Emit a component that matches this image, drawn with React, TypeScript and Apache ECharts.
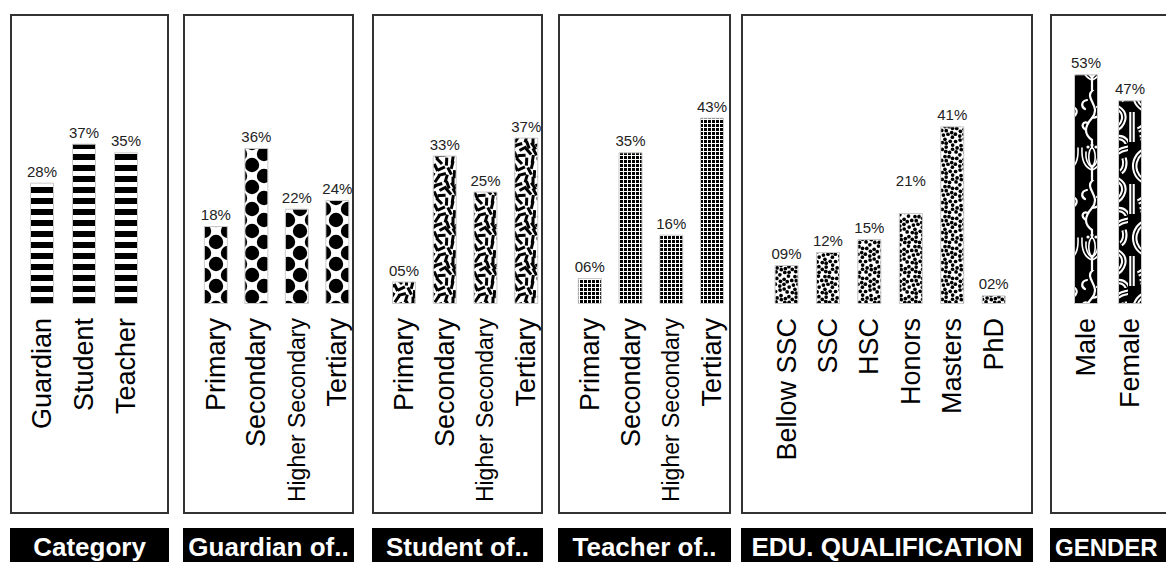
import React, { useEffect, useRef } from 'react';
import * as echarts from 'echarts';

// ---- values (percent) ----
const categoryLabels = ['Guardian', 'Student', 'Teacher'];
const categoryValues = [28, 37, 35];

const guardianLabels = ['Primary', 'Secondary', 'Higher Secondary', 'Tertiary'];
const guardianValues = [18, 36, 22, 24];

const studentLabels = ['Primary', 'Secondary', 'Higher Secondary', 'Tertiary'];
const studentValues = [5, 33, 25, 37];

const teacherLabels = ['Primary', 'Secondary', 'Higher Secondary', 'Tertiary'];
const teacherValues = [6, 35, 16, 43];

const qualificationLabels = ['Bellow SSC', 'SSC', 'HSC', 'Honors', 'Masters', 'PhD'];
const qualificationValues = [9, 12, 15, 21, 41, 2];

const genderLabels = ['Male', 'Female'];
const genderValues = [53, 47];

const panelTitles = ['Category', 'Guardian of..', 'Student of..', 'Teacher of..', 'EDU. QUALIFICATION', 'GENDER'];

// ---- layout ----
const FONT = '"Liberation Sans", Arial, Helvetica, sans-serif';
const PLOT_TOP = 44;
const PLOT_HEIGHT = 260;
const BOX_TOP = 14;
const BOX_BOTTOM = 514;
const HEADER_TOP = 528;
const BAR_WIDTH = 24;

type Texture = 'stripes' | 'circles' | 'dashes' | 'grid' | 'dots' | 'gender';

interface Panel {
  labels: string[];
  values: number[];
  title: string;
  box: [number, number];
  plotLeft: number;
  plotWidth: number;
  max: number;
  texture: Texture;
  titleAlign?: 'center' | 'left';
  titleSize?: number;
}

const panels: Panel[] = [
  { labels: categoryLabels, values: categoryValues, title: panelTitles[0], box: [10, 169], plotLeft: 21, plotWidth: 126, max: 60, texture: 'stripes' },
  { labels: guardianLabels, values: guardianValues, title: panelTitles[1], box: [183, 354], plotLeft: 195.6, plotWidth: 162, max: 60, texture: 'circles' },
  { labels: studentLabels, values: studentValues, title: panelTitles[2], box: [372, 543], plotLeft: 383.6, plotWidth: 163, max: 57.8, texture: 'dashes' },
  { labels: teacherLabels, values: teacherValues, title: panelTitles[3], box: [558, 731], plotLeft: 569.4, plotWidth: 163, max: 60, texture: 'grid' },
  { labels: qualificationLabels, values: qualificationValues, title: panelTitles[4], box: [741, 1033], plotLeft: 765.8, plotWidth: 248.6, max: 60, texture: 'dots' },
  { labels: genderLabels, values: genderValues, title: panelTitles[5], box: [1050, 1190], plotLeft: 1064, plotWidth: 88, max: 60, texture: 'gender', titleAlign: 'left', titleSize: 24 },
];

// label lifted above its bar: [panel, bar, extra px]
const liftedLabels: Array<[number, number, number]> = [[4, 3, 21]];

// ---- textures ----
function seeded(seed: number) {
  let s = seed >>> 0;
  return () => {
    s = (Math.imul(s, 1664525) + 1013904223) >>> 0;
    return s / 4294967296;
  };
}

interface Tile { url: string; w: number; h: number; }

function makeTile(w: number, h: number, draw: (ctx: CanvasRenderingContext2D) => void): Tile {
  const c = document.createElement('canvas');
  c.width = w;
  c.height = h;
  const ctx = c.getContext('2d')!;
  draw(ctx);
  return { url: c.toDataURL(), w, h };
}

function scatter(size: number, count: number, minDist: number, seed: number) {
  const rnd = seeded(seed);
  const pts: Array<[number, number, number]> = [];
  let tries = 0;
  while (pts.length < count && tries < 8000) {
    tries++;
    const x = rnd() * size;
    const y = rnd() * size;
    const a = rnd() * Math.PI;
    const ok = pts.every(([px, py]) => {
      let dx = Math.abs(px - x);
      let dy = Math.abs(py - y);
      dx = Math.min(dx, size - dx);
      dy = Math.min(dy, size - dy);
      return Math.hypot(dx, dy) >= minDist;
    });
    if (ok) pts.push([x, y, a]);
  }
  return pts;
}

function buildTiles(): Record<string, Tile> {
  const stripes = makeTile(4, 11, (ctx) => {
    ctx.fillStyle = '#fff';
    ctx.fillRect(0, 0, 4, 11);
    ctx.fillStyle = '#000';
    ctx.fillRect(0, 0, 4, 6);
  });

  const circles = makeTile(24, 22, (ctx) => {
    ctx.fillStyle = '#fff';
    ctx.fillRect(0, 0, 24, 22);
    ctx.fillStyle = '#000';
    const r = 7.2;
    const centers = [[12, 11], [0, 0], [24, 0], [0, 22], [24, 22]];
    centers.forEach(([x, y]) => {
      ctx.beginPath();
      ctx.arc(x, y, r, 0, Math.PI * 2);
      ctx.fill();
    });
  });

  const dashes = makeTile(40, 40, (ctx) => {
    ctx.fillStyle = '#fff';
    ctx.fillRect(0, 0, 40, 40);
    ctx.strokeStyle = '#000';
    ctx.lineWidth = 3;
    ctx.lineCap = 'butt';
    const pts = scatter(40, 34, 5.4, 11);
    pts.forEach(([x, y, a]) => {
      const len = 8;
      const dx = Math.cos(a) * len / 2;
      const dy = Math.sin(a) * len / 2;
      for (const ox of [-40, 0, 40]) {
        for (const oy of [-40, 0, 40]) {
          ctx.beginPath();
          ctx.moveTo(x + ox - dx, y + oy - dy);
          ctx.lineTo(x + ox + dx, y + oy + dy);
          ctx.stroke();
        }
      }
    });
  });

  const grid = makeTile(4, 4, (ctx) => {
    ctx.fillStyle = '#000';
    ctx.fillRect(0, 0, 4, 4);
    ctx.fillStyle = '#fff';
    ctx.fillRect(3, 0, 1, 4);
    ctx.fillRect(0, 3, 4, 1);
  });

  const dots = makeTile(30, 30, (ctx) => {
    ctx.fillStyle = '#fff';
    ctx.fillRect(0, 0, 30, 30);
    ctx.fillStyle = '#000';
    const pts = scatter(30, 52, 3.9, 5);
    pts.forEach(([x, y]) => {
      for (const ox of [-30, 0, 30]) {
        for (const oy of [-30, 0, 30]) {
          ctx.beginPath();
          ctx.arc(x + ox, y + oy, 1.85, 0, Math.PI * 2);
          ctx.fill();
        }
      }
    });
  });

  // vine with tulip blossom
  const male = makeTile(24, 90, (ctx) => {
    ctx.fillStyle = '#000';
    ctx.fillRect(0, 0, 24, 90);
    ctx.strokeStyle = '#fff';
    ctx.fillStyle = '#fff';
    ctx.lineWidth = 2.2;
    ctx.lineCap = 'round';
    ctx.beginPath();
    ctx.moveTo(13, 0);
    ctx.bezierCurveTo(3, 8, 22, 16, 12, 28);
    ctx.bezierCurveTo(4, 37, 4, 44, 12, 50);
    ctx.lineTo(12, 90);
    ctx.stroke();
    ctx.beginPath();
    ctx.moveTo(12, 28);
    ctx.bezierCurveTo(22, 27, 23, 19, 17, 17);
    ctx.stroke();
    ctx.beginPath();
    ctx.moveTo(7, 10);
    ctx.bezierCurveTo(1, 11, 1, 17, 5, 19);
    ctx.stroke();
    ctx.beginPath();
    ctx.moveTo(6, 40);
    ctx.bezierCurveTo(0, 36, 3, 31, 8, 33);
    ctx.stroke();
    // blossom
    ctx.fillStyle = '#000';
    ctx.beginPath();
    ctx.ellipse(12, 67, 3.2, 9, 0, 0, Math.PI * 2);
    ctx.fill();
    ctx.lineWidth = 1.6;
    ctx.stroke();
    ctx.beginPath();
    ctx.moveTo(12, 80);
    ctx.quadraticCurveTo(1, 76, 2, 58);
    ctx.moveTo(12, 80);
    ctx.quadraticCurveTo(23, 76, 22, 58);
    ctx.moveTo(12, 78);
    ctx.quadraticCurveTo(5, 72, 6, 62);
    ctx.moveTo(12, 78);
    ctx.quadraticCurveTo(19, 72, 18, 62);
    ctx.stroke();
    ctx.fillStyle = '#fff';
    [[8, 57], [12, 55], [16, 57]].forEach(([x, y]) => {
      ctx.beginPath();
      ctx.arc(x, y, 1.6, 0, Math.PI * 2);
      ctx.fill();
    });
  });

  // double-lined ribbons
  const female = makeTile(24, 72, (ctx) => {
    ctx.fillStyle = '#000';
    ctx.fillRect(0, 0, 24, 72);
    const ribbon = (path: () => void) => {
      ctx.strokeStyle = '#fff';
      ctx.lineWidth = 5.5;
      ctx.beginPath();
      path();
      ctx.stroke();
      ctx.strokeStyle = '#000';
      ctx.lineWidth = 1.4;
      ctx.beginPath();
      path();
      ctx.stroke();
    };
    ribbon(() => {
      ctx.moveTo(26, 4);
      ctx.bezierCurveTo(4, 6, 2, 28, 14, 36);
      ctx.bezierCurveTo(24, 42, 20, 54, 10, 58);
    });
    ribbon(() => {
      ctx.moveTo(4, 40);
      ctx.lineTo(4, 70);
    });
    ribbon(() => {
      ctx.moveTo(12, 66);
      ctx.bezierCurveTo(20, 64, 24, 70, 24, 76);
    });
    ribbon(() => {
      ctx.moveTo(20, 14);
      ctx.bezierCurveTo(22, 20, 20, 26, 17, 28);
    });
  });

  return { stripes, circles, dashes, grid, dots, male, female };
}

function pad(v: number) {
  return (v < 10 ? '0' : '') + v + '%';
}

export default function App() {
  const ref = useRef<HTMLDivElement>(null);

  useEffect(() => {
    if (!ref.current) return;
    const chart = echarts.init(ref.current, null, { renderer: 'svg' });
    const tiles = buildTiles();

    const graphics: any[] = [];
    panels.forEach((p) => {
      const [l, r] = p.box;
      graphics.push({
        type: 'rect',
        silent: true,
        shape: { x: l + 1, y: BOX_TOP + 1, width: r - l - 2, height: BOX_BOTTOM - BOX_TOP - 2 },
        style: { fill: 'none', stroke: '#333', lineWidth: 2 },
        z: 0,
      });
      graphics.push({
        type: 'rect',
        silent: true,
        shape: { x: l, y: HEADER_TOP, width: r - l, height: 40 },
        style: { fill: '#000' },
      });
      const left = p.titleAlign === 'left';
      graphics.push({
        type: 'text',
        silent: true,
        x: left ? l + 5 : (l + r) / 2,
        y: 547,
        style: {
          text: p.title,
          fill: '#fff',
          font: `bold ${p.titleSize ?? 26}px ${FONT}`,
          textAlign: left ? 'left' : 'center',
          textVerticalAlign: 'middle',
        },
      });
    });

    const buildSeries = (patterns?: any[][]) =>
      panels.map((p, i) => ({
        type: 'bar',
        xAxisIndex: i,
        yAxisIndex: i,
        barWidth: BAR_WIDTH,
        silent: true,
        itemStyle: { borderColor: '#c9c9c9', borderWidth: 1 },
        label: {
          show: true,
          position: 'top',
          distance: 4,
          fontSize: 15,
          fontFamily: FONT,
          color: '#222',
          formatter: (d: any) => pad(d.value),
        },
        data: p.values.map((v, j) => {
          const lift = liftedLabels.find(([pi, bi]) => pi === i && bi === j);
          const item: any = { value: v };
          if (patterns) item.itemStyle = { color: patterns[i][j] };
          else item.itemStyle = { color: '#666' };
          if (lift) item.label = { offset: [0, -lift[2]] };
          return item;
        }),
      }));

    const option: any = {
      animation: false,
      grid: panels.map((p) => ({
        left: p.plotLeft,
        width: p.plotWidth,
        top: PLOT_TOP,
        height: PLOT_HEIGHT,
        containLabel: false,
      })),
      xAxis: panels.map((p, i) => ({
        type: 'category',
        gridIndex: i,
        data: p.labels,
        axisLine: { show: false },
        axisTick: { show: false },
        splitLine: { show: false },
        axisLabel: {
          rotate: 90,
          interval: 0,
          margin: 14,
          fontSize: 27,
          fontFamily: FONT,
          color: '#000',
          formatter: (v: string) => (v === 'Higher Secondary' ? `{s|${v}}` : v),
          rich: { s: { fontSize: 23, fontFamily: FONT, color: '#000' } },
        },
      })),
      yAxis: panels.map((p, i) => ({
        type: 'value',
        gridIndex: i,
        min: 0,
        max: p.max,
        show: false,
      })),
      graphic: graphics,
      series: buildSeries(),
    };
    chart.setOption(option);

    // anchor each bar's texture at its own left edge
    const patterns = panels.map((p, i) =>
      p.values.map((_, j) => {
        const pt = chart.convertToPixel({ gridIndex: i } as any, [j, 0]) as number[];
        const x0 = pt[0] - BAR_WIDTH / 2;
        let tile: Tile;
        if (p.texture === 'gender') tile = j === 0 ? tiles.male : tiles.female;
        else tile = tiles[p.texture];
        return {
          image: tile.url,
          repeat: 'repeat',
          imageWidth: tile.w,
          imageHeight: tile.h,
          x: x0,
          y: PLOT_TOP,
        };
      })
    );
    chart.setOption({ series: buildSeries(patterns) });

    return () => chart.dispose();
  }, []);

  return (
    <div
      ref={ref}
      style={{ position: 'absolute', left: 0, top: 0, width: 1166, height: 562, background: '#fff' }}
    />
  );
}
